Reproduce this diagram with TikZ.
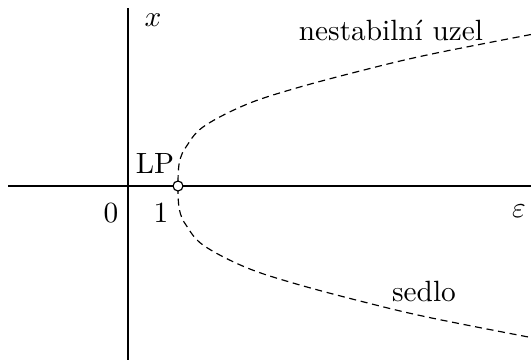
\documentclass[tikz,border=0pt]{standalone}
\begin{document}
\begin{tikzpicture}[x=0.3413pt,y=-0.3413pt,
  axis/.style={line width=0.38pt},
  branch/.style={line width=0.4pt, dash pattern=on 2.4pt off 1.6pt},
  lbl/.style={inner sep=0pt, anchor=center},
  lpdot/.style={circle, draw, fill=white, inner sep=0pt, minimum size=3.4pt, line width=0.4pt}]
\useasboundingbox (0,0) rectangle (531,362);
\coordinate (hL) at (8,186);
\coordinate (hR) at (531,186);
\coordinate (vT) at (128,8);
\coordinate (vB) at (128,360);
\draw[axis] (hL) -- (hR);
\draw[axis] (vT) -- (vB);
\draw[branch] plot[smooth, tension=0.6] coordinates {
  (531,34.5) (427,55) (360,71) (293,89) (245,105) (203,127) (186,147) (180.5,158) (178.5,169)
  (178,186)
  (178.5,203) (180.5,214) (186,225) (203,245) (245,267) (293,283) (360,301) (427,317) (531,337.5)};
\node[lpdot] (lp) at (178,186) {};
\node[lbl] (xl) at (153,20) {$x$};
\node[lbl] (nu) at (391,30) {nestabiln\'{\i} uzel};
\node[lbl] (lpl) at (155,163) {LP};
\node[lbl] (z) at (111,213) {0};
\node[lbl] (o) at (161,213) {1};
\node[lbl] (eps) at (519,211) {$\varepsilon$};
\node[lbl] (sd) at (424,291) {sedlo};
\end{tikzpicture}
\end{document}
